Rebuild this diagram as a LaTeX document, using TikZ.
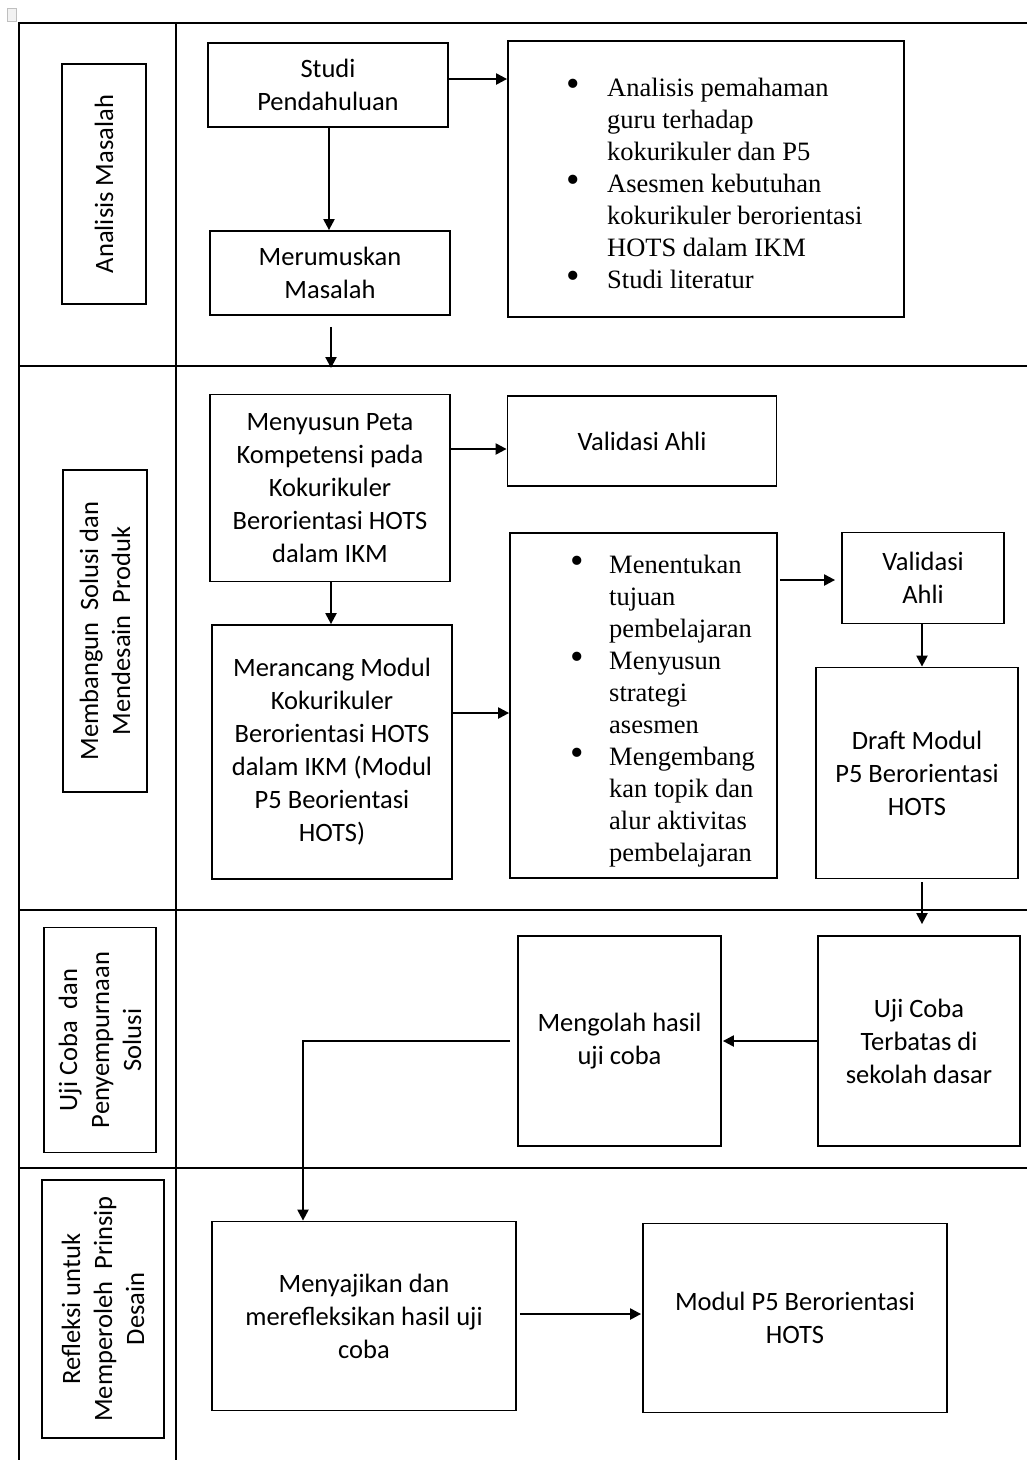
\documentclass[tikz,border=0pt]{standalone}
\usepackage{fontspec}
\setmainfont{Carlito}
\newfontfamily\tnr{Liberation Serif}
\usetikzlibrary{arrows.meta,calc}
\newcommand{\bigbul}{\raisebox{-0.5pt}{\scalebox{1.45}{\textbullet}}}
\begin{document}
\begin{tikzpicture}[x=1pt,y=-1pt,
  box/.style={draw, line width=1.8pt, inner sep=2pt, align=center, font=\fontsize{26.5}{33}\selectfont},
  lab/.style={box, rotate=90, font=\fontsize{26.5}{32}\selectfont},
  bul/.style={anchor=west, inner sep=0pt, font=\tnr\fontsize{26.5}{32}\selectfont},
  arr/.style={line width=2.2pt, -{Triangle[length=11pt,width=11pt]}},
  gridline/.style={line width=1.8pt},
  icon/.style={draw=gray!50, fill=gray!10, line width=0.8pt}]
\useasboundingbox (0,0) rectangle (1027,1460);
% small corner mark
\draw[icon] (7,8) rectangle (16,21);
% table grid
\draw[gridline] (19,1460) -- (19,23) -- (1027,23);
\draw[gridline] (176,23) -- (176,1460);
\draw[gridline] (19,366) -- (1027,366);
\draw[gridline] (19,910) -- (1027,910);
\draw[gridline] (19,1168) -- (1027,1168);
% phase labels
\node[lab, minimum width=240, minimum height=84] (l1) at (104,184) {Analisis Masalah};
\node[lab, minimum width=322, minimum height=84] (l2) at (105,631) {Membangun\ \ Solusi dan\\Mendesain\ \ Produk};
\node[lab, minimum width=225, minimum height=112] (l3) at (100,1040) {Uji Coba\ \ dan\\Penyempurnaan\\Solusi};
\node[lab, minimum width=258, minimum height=122] (l4) at (103,1309) {Refleksi untuk\\Memperoleh\ \ Prinsip\\Desain};
% row 1
\node[box, minimum width=240, minimum height=84] (sp) at (328,85) {Studi\\Pendahuluan};
\node[box, minimum width=240, minimum height=84] (mm) at (330,273) {Merumuskan\\Masalah};
\node[box, minimum width=396, minimum height=276] (b1) at (706,179) {};
\node[bul] (t1) at (566,186) {\begin{tabular}{@{}p{41pt}@{}l@{}}
\bigbul & Analisis pemahaman\\
 & guru terhadap\\
 & kokurikuler dan P5\\
\bigbul & Asesmen kebutuhan\\
 & kokurikuler berorientasi\\
 & HOTS dalam IKM\\
\bigbul & Studi literatur
\end{tabular}};
\coordinate (r2top) at (331,368);
\draw[arr] (sp.east |- 0,79) -- (b1.west |- 0,79);
\draw[arr] (sp.south -| 329,0) -- (mm.north -| 329,0);
\draw[arr] ($(mm.south -| r2top)+(0,11)$) -- (r2top);
% row 2
\node[box, minimum width=240, minimum height=187] (mp) at (330,488) {Menyusun Peta\\Kompetensi pada\\Kokurikuler\\Berorientasi HOTS\\dalam IKM};
\node[box, minimum width=269, minimum height=90] (v1) at (642,441) {Validasi Ahli};
\node[box, minimum width=240, minimum height=254] (mr) at (332,752) {Merancang Modul\\Kokurikuler\\Berorientasi HOTS\\dalam IKM (Modul\\P5 Beorientasi\\HOTS)};
\node[box, minimum width=267, minimum height=345] (b2) at (643.5,705.5) {};
\node[bul] (t2) at (570,711) {\begin{tabular}{@{}p{39pt}@{}l@{}}
\bigbul & Menentukan\\
 & tujuan\\
 & pembelajaran\\
\bigbul & Menyusun\\
 & strategi\\
 & asesmen\\
\bigbul & Mengembang\\
 & kan topik dan\\
 & alur aktivitas\\
 & pembelajaran
\end{tabular}};
\node[box, minimum width=162, minimum height=91] (v2) at (923,578) {Validasi\\Ahli};
\node[box, minimum width=202, minimum height=211] (dm) at (917,773) {Draft Modul\\P5 Berorientasi\\HOTS};
\draw[arr] (mp.east |- 0,449) -- (v1.west |- 0,449);
\draw[arr] (mp.south -| 331,0) -- (mr.north -| 331,0);
\draw[arr] (mr.east |- 0,713) -- (b2.west |- 0,713);
\draw[arr, shorten <=2pt, shorten >=6pt] (b2.east |- 0,580) -- (v2.west |- 0,580);
\draw[arr] (v2.south -| 922,0) -- (dm.north -| 922,0);
% row 3
\node[box, minimum width=203, minimum height=210] (mo) at (619.5,1041) {Mengolah hasil\\uji coba};
\node[box, minimum width=202, minimum height=210] (uc) at (919,1041) {Uji Coba\\Terbatas di\\sekolah dasar};
\draw[arr, shorten <=3pt, shorten >=11pt] (dm.south -| 922,0) -- (uc.north -| 922,0);
\draw[arr, shorten >=1pt] (uc.west) -- (mo.east);
\coordinate (elb) at (303,1041);
% row 4
\node[box, minimum width=304, minimum height=189] (my) at (364,1316) {Menyajikan dan\\merefleksikan hasil uji\\coba};
\node[box, minimum width=304, minimum height=189] (mf) at (795,1318) {Modul P5 Berorientasi\\HOTS};
\draw[arr] ([xshift=-7pt]mo.west) -- (elb) -- (my.north -| elb);
\draw[arr, shorten <=3pt, shorten >=1pt] (my.east |- 0,1314) -- (mf.west |- 0,1314);
\end{tikzpicture}
\end{document}
